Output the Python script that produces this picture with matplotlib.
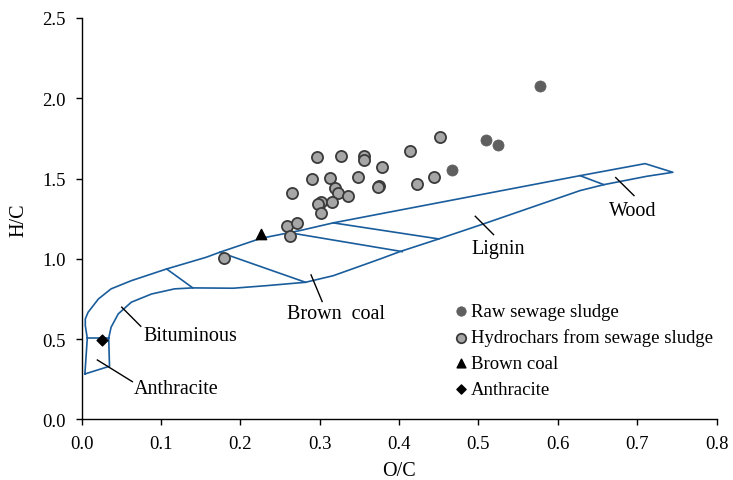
import matplotlib
matplotlib.use("Agg")
import matplotlib.pyplot as plt

plt.rcParams["font.family"] = ["Liberation Serif", "DejaVu Serif"]

# sample data (O/C, H/C)
raw_oc = [0.578, 0.510, 0.524, 0.467]
raw_hc = [2.075, 1.740, 1.707, 1.554]

hydro_oc = [0.296, 0.327, 0.356, 0.356, 0.290, 0.313, 0.348, 0.265, 0.319, 0.323,
            0.335, 0.302, 0.298, 0.315, 0.302, 0.259, 0.271, 0.263, 0.179, 0.451,
            0.414, 0.379, 0.375, 0.373, 0.423, 0.444]
hydro_hc = [1.633, 1.643, 1.643, 1.614, 1.496, 1.506, 1.508, 1.410, 1.440, 1.412,
            1.390, 1.354, 1.342, 1.354, 1.284, 1.207, 1.225, 1.144, 1.006, 1.757,
            1.670, 1.574, 1.456, 1.446, 1.468, 1.508]

brown_oc = [0.226]
brown_hc = [1.155]

anthr_oc = [0.025]
anthr_hc = [0.495]

# van Krevelen region outline
upper_x = [0.004, 0.007, 0.0045, 0.0045, 0.008, 0.021, 0.037, 0.0625, 0.107, 0.157,
           0.174, 0.226, 0.275, 0.317, 0.376, 0.628, 0.710, 0.745]
upper_y = [0.283, 0.506, 0.584, 0.626, 0.667, 0.750, 0.813, 0.864, 0.937, 1.010,
           1.041, 1.128, 1.176, 1.224, 1.280, 1.518, 1.593, 1.539]
lower_x = [0.745, 0.712, 0.658, 0.628, 0.506, 0.450, 0.401, 0.376, 0.317, 0.282,
           0.233, 0.191, 0.140, 0.117, 0.088, 0.0625, 0.046, 0.037, 0.034, 0.035, 0.004]
lower_y = [1.539, 1.514, 1.462, 1.425, 1.217, 1.124, 1.045, 0.999, 0.895, 0.854,
           0.833, 0.817, 0.819, 0.813, 0.781, 0.730, 0.657, 0.574, 0.506, 0.331, 0.283]

dividers = [
    ([0.007, 0.034], [0.506, 0.506]),      # anthracite / bituminous
    ([0.107, 0.140], [0.937, 0.819]),      # inside bituminous
    ([0.174, 0.282], [1.041, 0.854]),      # bituminous / brown coal
    ([0.2615, 0.404], [1.163, 1.045]),     # brown coal
    ([0.317, 0.450], [1.224, 1.124]),      # brown coal / lignin
    ([0.628, 0.658], [1.518, 1.462]),      # lignin / wood
]

# region labels: text, leader line start/end, text position
regions = [
    ("Wood", (0.673, 1.506), (0.696, 1.394), (0.694, 1.298), "center"),
    ("Lignin", (0.496, 1.265), (0.519, 1.151), (0.525, 1.062), "center"),
    ("Brown  coal", (0.289, 0.900), (0.303, 0.734), (0.321, 0.657), "center"),
    ("Bituminous", (0.0504, 0.699), (0.0744, 0.580), (0.078, 0.522), "left"),
    ("Anthracite", (0.0197, 0.370), (0.0638, 0.235), (0.066, 0.190), "left"),
]

blue = "#1a5d9c"

fig = plt.figure(figsize=(7.33, 4.81), dpi=100)
ax = fig.add_axes([0.1115, 0.126, 0.866, 0.8345])

ax.plot(upper_x + lower_x, upper_y + lower_y, color=blue, lw=1.2, zorder=2)
for dx, dy in dividers:
    ax.plot(dx, dy, color=blue, lw=1.2, zorder=2)

for name, p0, p1, pt, ha in regions:
    ax.plot([p0[0], p1[0]], [p0[1], p1[1]], color="black", lw=1.0, zorder=2)
    ax.text(pt[0], pt[1], name, ha=ha, va="center", fontsize=14.5)

ax.scatter(raw_oc, raw_hc, s=64, color="#5f5f5f", edgecolors="#5f5f5f",
           linewidths=0.5, zorder=3, label="Raw sewage sludge")
ax.scatter(hydro_oc, hydro_hc, s=64, color="#a6a6a6", edgecolors="#3a3a3a",
           linewidths=1.3, zorder=3, label="Hydrochars from sewage sludge")
ax.scatter(brown_oc, brown_hc, marker="^", s=55, color="black", zorder=3,
           label="Brown coal")
ax.scatter(anthr_oc, anthr_hc, marker="D", s=30, color="black", zorder=3,
           label="Anthracite")

ax.set_xlim(0, 0.8)
ax.set_ylim(0, 2.5)
ax.set_xticks([0.0, 0.1, 0.2, 0.3, 0.4, 0.5, 0.6, 0.7, 0.8])
ax.set_yticks([0.0, 0.5, 1.0, 1.5, 2.0, 2.5])
ax.xaxis.set_major_formatter(matplotlib.ticker.FormatStrFormatter("%.1f"))
ax.yaxis.set_major_formatter(matplotlib.ticker.FormatStrFormatter("%.1f"))
ax.tick_params(direction="out", length=4.5, width=1.0, labelsize=13.5, pad=7)

for side in ["top", "right"]:
    ax.spines[side].set_visible(False)
for side in ["left", "bottom"]:
    ax.spines[side].set_linewidth(1.0)

ax.set_xlabel("O/C", fontsize=14.5, labelpad=6)
ax.set_ylabel("H/C", fontsize=14.5, labelpad=10)

leg = ax.legend(loc="upper left", bbox_to_anchor=(0.589, 0.29), frameon=False,
                fontsize=13.5, handlelength=0.6, handletextpad=0.2,
                labelspacing=0.45, borderpad=0, borderaxespad=0,
                scatterpoints=1, markerscale=0.85)

fig.savefig("out.png", dpi=100)
